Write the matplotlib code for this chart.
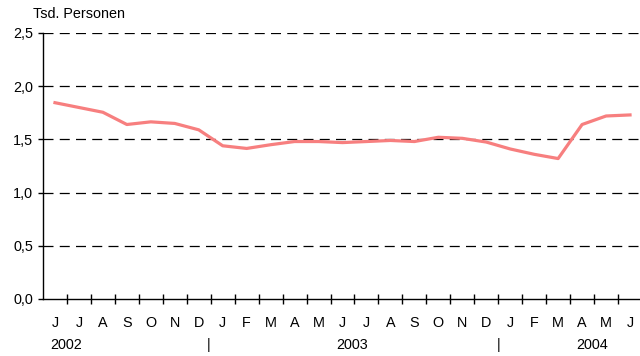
import matplotlib
matplotlib.use("Agg")
import matplotlib.pyplot as plt
import numpy as np

# data
months = ["J", "J", "A", "S", "O", "N", "D",
          "J", "F", "M", "A", "M", "J", "J", "A", "S", "O", "N", "D",
          "J", "F", "M", "A", "M", "J"]
values = [1.845, 1.80, 1.755, 1.64, 1.665, 1.65, 1.59,
          1.44, 1.415, 1.45, 1.48, 1.48, 1.47, 1.48, 1.49, 1.48, 1.52, 1.51, 1.475,
          1.41, 1.36, 1.32, 1.64, 1.72, 1.73]
years = ["2002", "2003", "2004"]
year_pos = [0.46, 12.4, 22.4]
year_breaks = [6.4, 18.5]
y_ticks = [0.0, 0.5, 1.0, 1.5, 2.0, 2.5]

plt.rcParams["font.family"] = ["Liberation Sans", "DejaVu Sans"]
fs = 10.4

fig = plt.figure(figsize=(6.4, 3.56), dpi=100)
ax = fig.add_axes([43 / 640, 57 / 356, 25 * 23.96 / 640, 266 / 356])

x = np.arange(len(values))
ax.plot(x, values, color="#f77f7f", linewidth=2.3, zorder=3)

ax.set_xlim(-0.5, len(values) - 0.5)
ax.set_ylim(0, 2.5)

for v in y_ticks[1:]:
    ax.axhline(v, color="black", linewidth=0.9, dashes=(8, 5), zorder=1)

for s in ["top", "right"]:
    ax.spines[s].set_visible(False)
ax.spines["left"].set_linewidth(1.0)
ax.spines["bottom"].set_linewidth(1.0)

ax.set_yticks(y_ticks)
ax.set_yticklabels([("%.1f" % v).replace(".", ",") for v in y_ticks], fontsize=fs)
ax.tick_params(axis="y", length=3.6, width=1, pad=3.6)

# month labels drawn as text, boundaries as minor ticks
ax.set_xticks([])
ax.set_xticks(np.arange(0.5, len(values) - 1, 1.0), minor=True)
ax.tick_params(axis="x", which="minor", length=6.5, width=1, direction="inout")
trans = ax.get_xaxis_transform()
for i, m in enumerate(months):
    ax.text(i, -28 / 266, m, transform=trans, ha="center", va="baseline", fontsize=fs)

for name, pos in zip(years, year_pos):
    ax.text(pos, -50 / 266, name, transform=trans,
            ha="center", va="baseline", fontsize=fs)
for pos in year_breaks:
    ax.text(pos, -46 / 266, "|", transform=trans,
            ha="center", va="center", fontsize=fs)

fig.text(33 / 640, 1 - 18 / 356, "Tsd. Personen", ha="left", va="baseline", fontsize=fs)

plt.savefig("out.png", dpi=100)
plt.close()
